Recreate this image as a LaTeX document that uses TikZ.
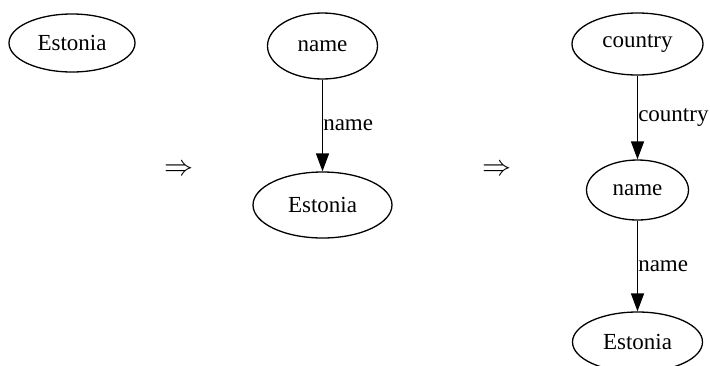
\documentclass[tikz,border=0pt]{standalone}
\usepackage{fontspec}
\setmainfont{Liberation Serif}
\usetikzlibrary{shapes.geometric,arrows.meta}
\begin{document}
\begin{tikzpicture}[x=1pt,y=-1pt,
  term/.style={ellipse,draw,line width=1.3pt,inner sep=0pt,
    font=\fontsize{23}{23}\selectfont},
  edge/.style={line width=1.5pt,-{Triangle[length=18pt,width=13pt]}},
  elabel/.style={anchor=west,inner sep=0pt,font=\fontsize{23}{23}\selectfont},
  step arrow/.style={inner sep=0pt,font=\fontsize{20}{20}\selectfont,scale=1.4}]
\useasboundingbox (0,0) rectangle (710,365);
% first graph: a single term
\node[term,minimum width=126pt,minimum height=58pt] (e0) at (72,43) {Estonia};
\node[step arrow] (r1) at (179,170) {$\Rightarrow$};
% second graph: name -> Estonia
\node[term,minimum width=110pt,minimum height=66pt] (n1) at (322.5,46) {name};
\node[term,minimum width=139pt,minimum height=66pt] (e1) at (322.5,205) {Estonia};
\draw[edge] (n1) -- node[elabel] {name} (e1);
\node[step arrow] (r2) at (497,170) {$\Rightarrow$};
% third graph: country -> name -> Estonia
\node[term,minimum width=131pt,minimum height=62pt] (c2) at (637.5,44) {country};
\node[term,minimum width=102pt,minimum height=60pt] (n2) at (637.5,190) {name};
\node[term,minimum width=130pt,minimum height=60pt] (e2) at (637.5,342) {Estonia};
\draw[edge] (c2) -- node[elabel] {country} (n2);
\draw[edge] (n2) -- node[elabel] {name} (e2);
\end{tikzpicture}
\end{document}
